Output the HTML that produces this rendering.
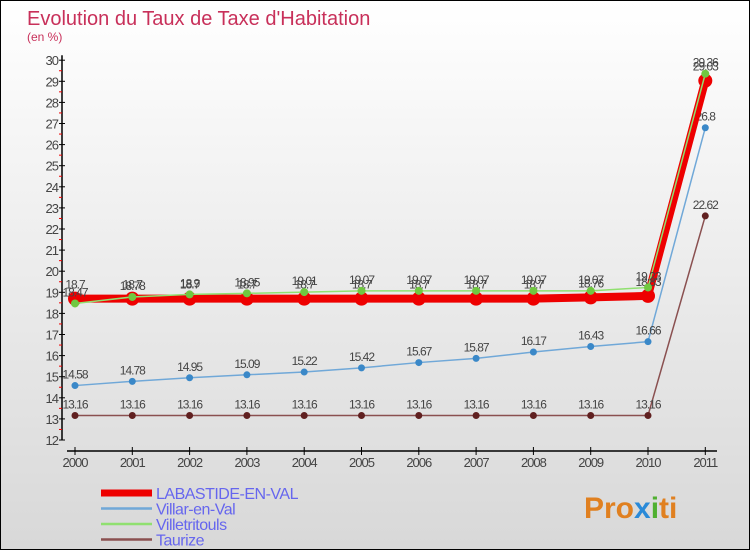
<!DOCTYPE html>
<html><head><meta charset="utf-8"><style>
body{margin:0}
#c{position:relative;width:748px;height:548px;border:1px solid #000;background:linear-gradient(#ffffff,#d8d8d8);font-family:"Liberation Sans",sans-serif;overflow:hidden}
</style></head><body>
<div id="c">
<svg id="svg" width="748" height="548" xmlns="http://www.w3.org/2000/svg">
<text x="26" y="24" font-size="20" fill="#c8305a">Evolution du Taux de Taxe d'Habitation</text>
<text x="26" y="40" font-size="12" fill="#c8305a">(en %)</text>
<g id="axes"></g><g id="series"></g><g id="legend"></g>
<text x="583" y="517" font-size="30" font-weight="bold" fill="#e08020">Pro<tspan fill="#2a8ad8">x</tspan><tspan fill="#50b030">i</tspan><tspan fill="#e08020">ti</tspan></text>
</svg></div>
<script>
const years=['2000','2001','2002','2003','2004','2005','2006','2007','2008','2009','2010','2011'];
const labastide=[18.7,18.7,18.7,18.7,18.7,18.7,18.7,18.7,18.7,18.76,18.83,29.03];
const villar=[14.58,14.78,14.95,15.09,15.22,15.42,15.67,15.87,16.17,16.43,16.66,26.8];
const villetritouls=[18.47,18.78,18.9,18.95,19.01,19.07,19.07,19.07,19.07,19.07,19.23,29.36];
const taurize=[13.16,13.16,13.16,13.16,13.16,13.16,13.16,13.16,13.16,13.16,13.16,22.62];
const yTicks=[12,13,14,15,16,17,18,19,20,21,22,23,24,25,26,27,28,29,30];
const names=['LABASTIDE-EN-VAL','Villar-en-Val','Villetritouls','Taurize'];
const NS='http://www.w3.org/2000/svg';
const X=i=>74+i*57.3;
const Y=v=>439-(v-12)*21.1;
function mk(t,a,p){const e=document.createElementNS(NS,t);for(const k in a)e.setAttribute(k,a[k]);p.appendChild(e);return e;}
const ax=document.getElementById('axes');
let e=mk('line',{x1:61,y1:Y(30)-5,x2:61,y2:Y(12),stroke:'#000','stroke-width':1.5},ax);

e=mk('line',{x1:66,y1:450,x2:716,y2:450,stroke:'#000','stroke-width':1.5},ax);

yTicks.forEach(v=>{
 mk('line',{x1:58,y1:Y(v),x2:64,y2:Y(v),stroke:'#000'},ax);
 if(v<30)mk('line',{x1:58,y1:Y(v+0.5),x2:61,y2:Y(v+0.5),stroke:'#e00'},ax);
 const t=mk('text',{x:57,y:Y(v)+5,'font-size':13,fill:'#444','text-anchor':'end','letter-spacing':'-1'},ax);t.textContent=v;
 
});
years.forEach((y,i)=>{
 mk('line',{x1:X(i),y1:446,x2:X(i),y2:454,stroke:'#000'},ax);
 const t=mk('text',{x:X(i),y:466,'font-size':13,fill:'#444','text-anchor':'middle','letter-spacing':'-1'},ax);t.textContent=y;
 
});
const sg=document.getElementById('series');
const defs=[
 {d:taurize,c:'#8a5050',w:1.5,r:3.5,f:'#602020',n:'taurize'},
 {d:villar,c:'#70a8d8',w:1.5,r:3.5,f:'#3a88c8',n:'villar-en-val'},
 {d:labastide,c:'#ee0000',w:8,r:7,f:'#ee0000',n:'labastide-en-val'},
 {d:villetritouls,c:'#90e070',w:1.5,r:4,f:'#70c840',n:'villetritouls'}];
defs.forEach(s=>{
 const g=mk('g',{},sg);
 const pl=mk('polyline',{points:s.d.map((v,i)=>X(i)+','+Y(v)).join(' '),fill:'none',stroke:s.c,'stroke-width':s.w},g);
 
 s.d.forEach((v,i)=>{
  const c=mk('circle',{cx:X(i),cy:Y(v),r:s.r,fill:s.f},g);
  
  const t=mk('text',{x:X(i),y:Y(v)-(s.n==='labastide-en-val'?10:7),'font-size':12,fill:'#444','text-anchor':'middle','letter-spacing':'-1'},g);
  t.textContent=v;
 });
});
const lg=document.getElementById('legend');
const lc=['#ee0000','#70a8d8','#90e070','#8a5050'],lw=[7,2.5,2.5,2.5];
names.forEach((n,i)=>{
 const y=492+i*15.5;
 const g=mk('g',{},lg);
 mk('line',{x1:100,y1:y,x2:151,y2:y,stroke:lc[i],'stroke-width':lw[i]},g);
 const t=mk('text',{x:155,y:y+6,'font-size':16,fill:'#6666ee','letter-spacing':'-0.5'},g);t.textContent=n;
});
</script>
</body></html>
